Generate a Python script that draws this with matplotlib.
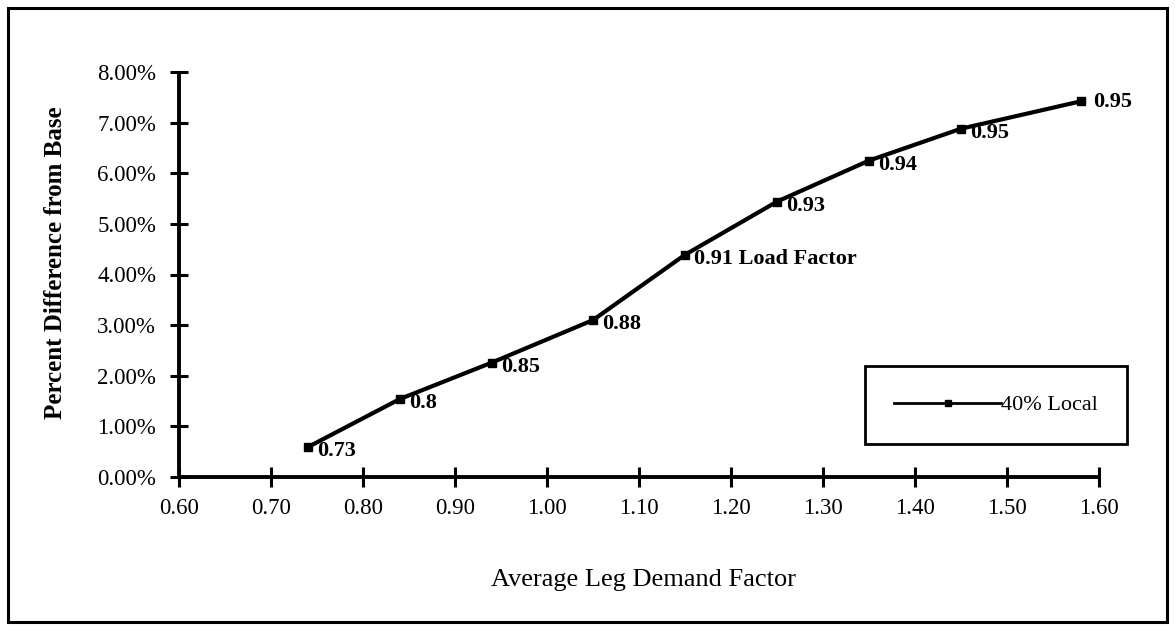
import matplotlib.pyplot as plt
from matplotlib.patches import Rectangle
from matplotlib.ticker import FuncFormatter

# Average leg demand factor vs percent difference from base (40% local)
demand_factor = [0.74, 0.84, 0.94, 1.05, 1.15, 1.25, 1.35, 1.45, 1.58]
pct_diff = [0.0059, 0.0154, 0.0226, 0.0310, 0.0439, 0.0544, 0.0625, 0.0688, 0.0742]
load_labels = ["0.73", "0.8", "0.85", "0.88", "0.91 Load Factor",
               "0.93", "0.94", "0.95", "0.95"]

x_ticks = [0.6, 0.7, 0.8, 0.9, 1.0, 1.1, 1.2, 1.3, 1.4, 1.5, 1.6]
y_ticks = [0.0, 0.01, 0.02, 0.03, 0.04, 0.05, 0.06, 0.07, 0.08]

plt.rcParams["font.family"] = ["Liberation Serif", "DejaVu Serif"]

fig = plt.figure(figsize=(11.75, 6.3), dpi=100)
ax = fig.add_axes([179 / 1175, 1 - 477 / 630, 920 / 1175, 405 / 630])

# Outer frame around the whole chart
fig.patches.append(Rectangle((8 / 1175, 8 / 630), 1159 / 1175, 614 / 630,
                             transform=fig.transFigure, fill=False,
                             edgecolor="black", linewidth=2.2))

ax.plot(demand_factor, pct_diff, color="black", linewidth=3,
        marker="s", markersize=6, label="40% Local", clip_on=False)

# Point labels
for i, (xv, yv, lab) in enumerate(zip(demand_factor, pct_diff, load_labels)):
    if i == len(load_labels) - 1:
        off = (13, -1)
    else:
        off = (9, -4)
    ax.annotate(lab, (xv, yv), xytext=off, textcoords="offset pixels",
                ha="left", va="center", fontsize=16, fontweight="bold")

ax.set_xlim(0.6, 1.6)
ax.set_ylim(0, 0.08)
ax.set_xticks(x_ticks)
ax.set_yticks(y_ticks)
ax.xaxis.set_major_formatter(FuncFormatter(lambda v, p: "%.2f" % v))
ax.yaxis.set_major_formatter(FuncFormatter(lambda v, p: "%.2f%%" % (v * 100)))

for s in ["top", "right"]:
    ax.spines[s].set_visible(False)
for s in ["left", "bottom"]:
    ax.spines[s].set_linewidth(2.8)
    ax.spines[s].set_capstyle("butt")

ax.tick_params(axis="x", direction="inout", length=14, width=2.2, pad=8, labelsize=16.5)
ax.tick_params(axis="y", direction="inout", length=13, width=2.2, pad=10, labelsize=16.5)

ax.set_xlabel("Average Leg Demand Factor", fontsize=19)
ax.xaxis.set_label_coords(0.505, -0.228)
ax.set_ylabel("Percent Difference from Base", fontsize=18, fontweight="bold")
ax.yaxis.set_label_coords(-0.122, 0.53)

leg = ax.legend(loc="center", bbox_to_anchor=(996 / 1175, 1 - 405 / 630),
                bbox_transform=fig.transFigure, fontsize=16, frameon=True,
                fancybox=False, handlelength=4.8, handletextpad=0.0,
                borderpad=1.3, borderaxespad=0)
leg.get_frame().set_edgecolor("black")
leg.get_frame().set_linewidth(2)
leg.get_frame().set_facecolor("white")
leg.get_frame().set_alpha(1)
for h in leg.legend_handles:
    h.set_linewidth(2)
    h.set_markersize(4)

fig.savefig("out.png", dpi=100)
